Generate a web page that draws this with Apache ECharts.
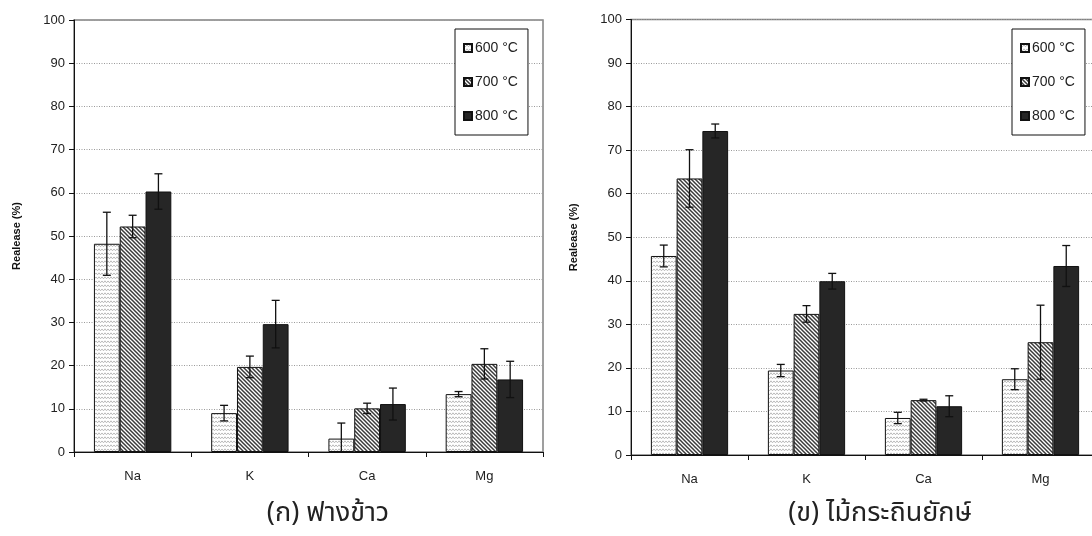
<!DOCTYPE html>
<html>
<head>
<meta charset="utf-8">
<script src="https://cdn.jsdelivr.net/npm/echarts@6/dist/echarts.min.js"></script>
<style>
  html, body { margin: 0; padding: 0; background: #fff; }
  #chart { width: 1092px; height: 536px; }
</style>
</head>
<body>
<div id="chart"></div>
<script>
// Element categories on the x axis
const categories = ['Na', 'K', 'Ca', 'Mg'];
const seriesNames = ['600 °C', '700 °C', '800 °C'];

// (ก) rice straw: mean release (%) and error half-width
const strawMean600 = [48.2, 9.0, 3.1, 13.4];
const strawErr600  = [7.3, 1.8, 3.6, 0.6];
const strawMean700 = [52.2, 19.7, 10.1, 20.4];
const strawErr700  = [2.6, 2.5, 1.2, 3.5];
const strawMean800 = [60.3, 29.6, 11.1, 16.8];
const strawErr800  = [4.1, 5.5, 3.7, 4.2];

// (ข) leucaena: mean release (%) and error half-width
const leucMean600 = [45.7, 19.4, 8.5, 17.4];
const leucErr600  = [2.5, 1.4, 1.3, 2.4];
const leucMean700 = [63.5, 32.4, 12.6, 25.9];
const leucErr700  = [6.6, 1.9, 0.2, 8.5];
const leucMean800 = [74.4, 39.9, 11.2, 43.4];
const leucErr800  = [1.6, 1.8, 2.4, 4.7];

const yTicks = { min: 0, max: 100, interval: 10 };
const captions = ['(ก) ฟางข้าว', '(ข) ไม้กระถินยักษ์'];

const CAT_GAP = 0.34;
const FONT = '"Liberation Sans", Arial, sans-serif';
const THAI_FONT = '"Noto Sans Thai", "Noto Sans Thai UI", "Noto Sans", "DejaVu Sans", sans-serif';

// Fill patterns
function wavePattern() {
  const c = document.createElement('canvas');
  c.width = 6; c.height = 4;
  const g = c.getContext('2d');
  g.fillStyle = '#fff'; g.fillRect(0, 0, 6, 4);
  g.strokeStyle = '#b4b4b4'; g.lineWidth = 0.9;
  g.beginPath();
  g.moveTo(0, 0.8); g.lineTo(1.5, 2.8); g.lineTo(3, 0.8); g.lineTo(4.5, 2.8); g.lineTo(6, 0.8);
  g.stroke();
  return c;
}
function hatchPattern() {
  const c = document.createElement('canvas');
  c.width = 4; c.height = 4;
  const g = c.getContext('2d');
  g.fillStyle = '#fff'; g.fillRect(0, 0, 4, 4);
  g.strokeStyle = '#3a3a3a'; g.lineWidth = 1.5;
  for (let k = -2; k <= 2; k++) {
    g.beginPath();
    g.moveTo(k * 4 - 2, -2);
    g.lineTo(k * 4 + 6, 6);
    g.stroke();
  }
  return c;
}
const fills = [
  { image: wavePattern(), repeat: 'repeat' },
  { image: hatchPattern(), repeat: 'repeat' },
  '#262626'
];

function barSeries(idx, values, axisIndex) {
  return {
    name: seriesNames[idx],
    type: 'bar',
    xAxisIndex: axisIndex,
    yAxisIndex: axisIndex,
    data: values,
    barGap: '0%',
    barCategoryGap: (CAT_GAP * 100) + '%',
    itemStyle: { color: fills[idx], borderColor: '#111', borderWidth: 1 },
    emphasis: { disabled: true },
    animation: false,
    z: 2
  };
}

function errorData(means, errs) {
  const out = [];
  means.forEach((mList, s) => {
    mList.forEach((m, i) => {
      out.push([i, s, Math.max(0, m - errs[s][i]), m + errs[s][i]]);
    });
  });
  return out;
}

function errorSeries(means, errs, axisIndex) {
  return {
    type: 'custom',
    xAxisIndex: axisIndex,
    yAxisIndex: axisIndex,
    data: errorData(means, errs),
    encode: { x: 0, y: [2, 3] },
    animation: false,
    silent: true,
    z: 5,
    renderItem: function (params, api) {
      const cat = api.value(0);
      const s = api.value(1);
      const loVal = api.value(2);
      const lo = api.coord([cat, loVal]);
      const hi = api.coord([cat, api.value(3)]);
      const band = api.size([1, 0])[0];
      const bw = band * (1 - CAT_GAP) / 3;
      const x = lo[0] + (s - 1) * bw;
      const cap = 4;
      const st = { stroke: '#111', lineWidth: 1.3 };
      const parts = [
        { type: 'line', shape: { x1: x, y1: hi[1], x2: x, y2: lo[1] }, style: st },
        { type: 'line', shape: { x1: x - cap, y1: hi[1], x2: x + cap, y2: hi[1] }, style: st }
      ];
      if (loVal > 0) {
        parts.push({ type: 'line', shape: { x1: x - cap, y1: lo[1], x2: x + cap, y2: lo[1] }, style: st });
      }
      return { type: 'group', children: parts };
    }
  };
}

function xAxis(gridIndex) {
  return {
    type: 'category',
    gridIndex: gridIndex,
    data: categories,
    axisLine: { lineStyle: { color: '#111', width: 1 } },
    axisTick: { show: true, length: 5, lineStyle: { color: '#111' } },
    axisLabel: { fontFamily: FONT, fontSize: 13, color: '#222', margin: 18 },
    splitLine: { show: false }
  };
}

function yAxis(gridIndex) {
  return {
    type: 'value',
    gridIndex: gridIndex,
    min: yTicks.min,
    max: yTicks.max,
    interval: yTicks.interval,
    name: 'Realease (%)',
    nameLocation: 'middle',
    nameRotate: 90,
    nameGap: 52,
    nameTextStyle: { fontFamily: FONT, fontSize: 11, fontWeight: 'bold', color: '#111' },
    axisLine: { show: true, lineStyle: { color: '#111', width: 1 } },
    axisTick: { show: true, length: 5, lineStyle: { color: '#111' } },
    axisLabel: { fontFamily: FONT, fontSize: 13, color: '#222', margin: 9 },
    splitLine: { show: true, lineStyle: { color: '#9a9a9a', type: [1, 1.5], width: 1 } }
  };
}

function legend(left) {
  return {
    left: left,
    top: 29,
    orient: 'vertical',
    data: seriesNames,
    icon: 'rect',
    itemWidth: 8,
    itemHeight: 8,
    itemGap: 20,
    padding: [12, 10, 12, 8],
    borderColor: '#111',
    borderWidth: 1,
    backgroundColor: '#fff',
    selectedMode: false,
    textStyle: { fontFamily: FONT, fontSize: 14, color: '#222', padding: [0, 0, 0, -2] }
  };
}

const chart = echarts.init(document.getElementById('chart'), null, { renderer: 'canvas' });

const strawMeans = [strawMean600, strawMean700, strawMean800];
const strawErrs = [strawErr600, strawErr700, strawErr800];
const leucMeans = [leucMean600, leucMean700, leucMean800];
const leucErrs = [leucErr600, leucErr700, leucErr800];

chart.setOption({
  backgroundColor: '#fff',
  animation: false,
  grid: [
    { left: 74, top: 20, width: 469, height: 432, outerBoundsMode: 'none', containLabel: false, show: true, borderColor: '#808080', borderWidth: 1.5, backgroundColor: 'transparent' },
    { left: 631, top: 19.5, width: 468, height: 435.5, outerBoundsMode: 'none', containLabel: false, show: true, borderColor: '#808080', borderWidth: 1.5, backgroundColor: 'transparent' }
  ],
  xAxis: [xAxis(0), xAxis(1)],
  yAxis: [yAxis(0), yAxis(1)],
  legend: [legend(455), legend(1012)],
  series: [
    barSeries(0, strawMean600, 0),
    barSeries(1, strawMean700, 0),
    barSeries(2, strawMean800, 0),
    errorSeries(strawMeans, strawErrs, 0),
    barSeries(0, leucMean600, 1),
    barSeries(1, leucMean700, 1),
    barSeries(2, leucMean800, 1),
    errorSeries(leucMeans, leucErrs, 1)
  ],
  graphic: [
    { type: 'text', x: 328, y: 516, style: { text: captions[0], font: '27px ' + THAI_FONT, fill: '#222', textAlign: 'center', textVerticalAlign: 'middle', align: 'center', verticalAlign: 'middle' } },
    { type: 'text', x: 880, y: 516, style: { text: captions[1], font: '27px ' + THAI_FONT, fill: '#222', textAlign: 'center', textVerticalAlign: 'middle', align: 'center', verticalAlign: 'middle' } }
  ]
});
</script>
</body>
</html>
